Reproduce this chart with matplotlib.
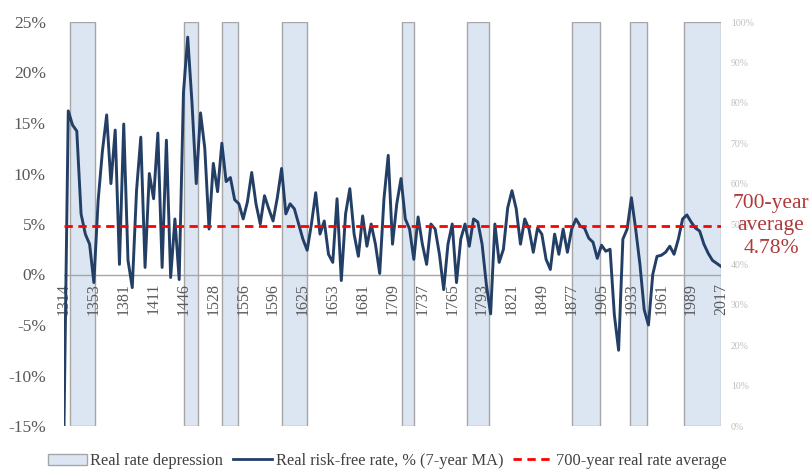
import matplotlib
matplotlib.use("Agg")
import matplotlib.pyplot as plt
from matplotlib.patches import Patch
from matplotlib.lines import Line2D

plt.rcParams['font.family'] = ['Liberation Serif', 'DejaVu Serif']

# Category labels (one label every 7 points)
year_labels = ["1314", "1353", "1381", "1411", "1446", "1528", "1556", "1596",
               "1625", "1653", "1681", "1709", "1737", "1765", "1793", "1821",
               "1849", "1877", "1905", "1933", "1961", "1989", "2017"]
points_per_label = 7

# Real risk-free rate, % (7-year MA)
real_rate = [
    -15.0, 16.2, 14.8, 14.2, 6.0, 4.0, 3.0,
    -0.8, 7.3, 12.2, 15.8, 9.0, 14.3, 1.0,
    14.9, 1.4, -1.3, 8.3, 13.6, 0.7, 10.0,
    7.5, 14.0, 0.7, 13.3, -0.3, 5.5, -0.5,
    18.0, 23.5, 17.0, 9.0, 16.0, 12.5, 4.5,
    11.0, 8.2, 13.0, 9.2, 9.6, 7.4, 7.0,
    5.5, 7.2, 10.1, 7.0, 5.0, 7.8, 6.5,
    5.3, 7.6, 10.5, 6.0, 7.0, 6.5, 5.0,
    3.5, 2.4, 5.0, 8.1, 4.0, 5.3, 2.0,
    1.2, 7.5, -0.6, 6.0, 8.5, 4.0, 1.8,
    5.8, 2.8, 5.0, 3.0, 0.1, 7.5, 11.8,
    3.0, 7.0, 9.5, 5.5, 4.5, 1.5, 5.7,
    3.0, 1.0, 5.0, 4.5, 2.0, -1.5, 3.0,
    5.0, -0.8, 3.5, 5.0, 2.8, 5.5, 5.2,
    3.0, -1.0, -3.9, 5.0, 1.2, 2.5, 6.6,
    8.3, 6.5, 3.0, 5.5, 4.5, 2.2, 4.6,
    4.0, 1.5, 0.5, 4.0, 2.0, 4.5, 2.2,
    4.5, 5.5, 4.8, 4.6, 3.6, 3.2, 1.6,
    2.9, 2.3, 2.5, -4.0, -7.5, 3.5, 4.5,
    7.6, 4.5, 1.0, -3.5, -5.0, 0.0, 1.8,
    1.9, 2.2, 2.8, 2.0, 3.5, 5.5, 5.9,
    5.2, 4.6, 4.3, 3.0, 2.1, 1.4, 1.1,
    0.8,
]

average_rate = 4.78

# Real rate depression periods (start / end point index)
depr_start = [1.5, 28.1, 37.0, 51.1, 79.2, 94.4, 119.1, 132.7, 145.3]
depr_end = [7.2, 31.4, 40.8, 57.0, 82.0, 99.7, 125.6, 136.6, 154.0]

right_ticks = list(range(0, 101, 10))

navy = "#243F66"
txt = "#595959"

fig = plt.figure(figsize=(8.11, 4.70), dpi=100)
ax = fig.add_axes([64 / 811, 44 / 470, (721 - 64) / 811, (426 - 22) / 470])

x = list(range(len(real_rate)))

for s, e in zip(depr_start, depr_end):
    ax.axvspan(s, e, ymin=0, ymax=1, facecolor="#DCE6F2", edgecolor="#A6A6A6",
               linewidth=1.0, zorder=1)

ax.axhline(0, color="#A6A6A6", linewidth=1.0, zorder=2)
ax.plot(x, real_rate, color=navy, linewidth=2.1, zorder=4, solid_joinstyle="round")
ax.axhline(average_rate, color="#FF0000", linewidth=2.0, linestyle=(0, (3, 2)), zorder=5)

ax.set_xlim(0, len(real_rate) - 1)
ax.set_ylim(-15, 25)
ax.spines["bottom"].set_position(("data", 0))
for sp in ax.spines.values():
    sp.set_visible(False)

ax.set_yticks(range(-15, 26, 5))
ax.set_yticklabels([f"{v}%" for v in range(-15, 26, 5)])
ax.tick_params(axis="y", length=0, pad=13, labelsize=12.5, labelcolor=txt)

ax.set_xticks([i * points_per_label for i in range(len(year_labels))])
ax.set_xticklabels(year_labels)
ax.tick_params(axis="x", length=0, pad=6, labelsize=11.5, labelcolor=txt,
               labelrotation=90)

ax2 = ax.twinx()
ax2.set_ylim(0, 100)
ax2.set_yticks(right_ticks)
ax2.set_yticklabels([f"{v}%" for v in right_ticks])
ax2.tick_params(axis="y", length=0, pad=7, labelsize=7, labelcolor="#BFBFBF")
for sp in ax2.spines.values():
    sp.set_visible(False)

fig.text(771 / 811, 1 - 226 / 470, "700-year\naverage\n4.78%", ha="center", va="center",
         fontsize=15.5, color="#B03A3A", linespacing=1.25)

handles = [
    Patch(facecolor="#DCE6F2", edgecolor="#A6A6A6", linewidth=1.0),
    Line2D([0], [0], color=navy, linewidth=2.0),
    Line2D([0], [0], color="#FF0000", linewidth=2.0, linestyle=(0, (3, 2))),
]
labels = ["Real rate depression", "Real risk-free rate, % (7-year MA)",
          "700-year real rate average"]
fig.legend(handles, labels, loc="center", bbox_to_anchor=(387 / 811, 1 - 461 / 470),
           ncol=3, frameon=False, fontsize=11.8, handlelength=2.4, handletextpad=0.2,
           columnspacing=0.6, labelcolor="#404040")

fig.savefig("out.png", dpi=100)
